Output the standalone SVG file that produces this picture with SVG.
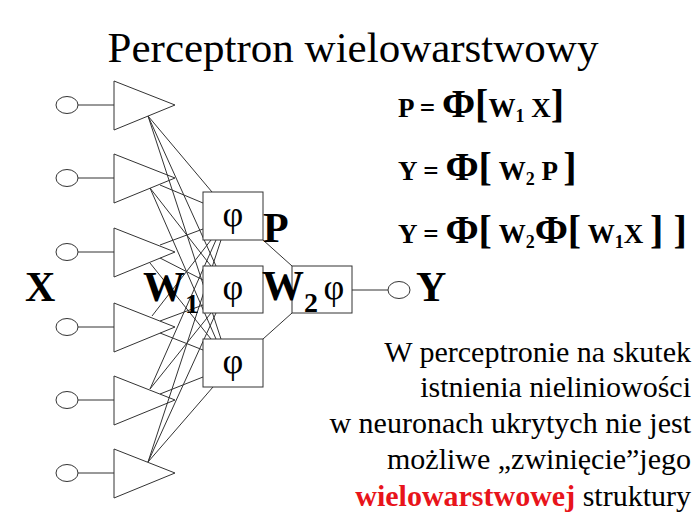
<svg xmlns="http://www.w3.org/2000/svg" width="700" height="525" viewBox="0 0 700 525">
<style>
.ln{stroke:#333;stroke-width:1;fill:none}
.nd{stroke:#333;stroke-width:1;fill:#fff}
.t{font-family:"Liberation Serif","Times New Roman",serif;fill:#000}
.b{font-weight:bold}
.phi{font-family:"Liberation Serif","Times New Roman",serif;font-size:36px;text-anchor:middle}
.f{font-family:"Liberation Serif","Times New Roman",serif;font-weight:bold;font-size:27px}
.big{font-size:40px}
.sub{font-size:18px}
.body{font-family:"Liberation Serif","Times New Roman",serif;font-size:30px;text-anchor:end}
</style>
<rect width="700" height="525" fill="#fff"/>
<text class="t" x="353" y="62" font-size="43" text-anchor="middle">Perceptron wielowarstwowy</text>

<g id="connectors">
  <line class="ln" x1="78" y1="105" x2="114" y2="105"/>
  <line class="ln" x1="78" y1="178" x2="114" y2="178"/>
  <line class="ln" x1="78" y1="252" x2="114" y2="252"/>
  <line class="ln" x1="78" y1="327" x2="114" y2="327"/>
  <line class="ln" x1="78" y1="400" x2="114" y2="400"/>
  <line class="ln" x1="78" y1="473" x2="114" y2="473"/>
  <line class="ln" x1="148" y1="116" x2="212" y2="192"/>
  <line class="ln" x1="148" y1="116" x2="216" y2="266"/>
  <line class="ln" x1="148" y1="116" x2="221" y2="339"/>
  <line class="ln" x1="160" y1="185" x2="203" y2="203"/>
  <line class="ln" x1="150" y1="188" x2="211" y2="266"/>
  <line class="ln" x1="150" y1="188" x2="216" y2="339"/>
  <line class="ln" x1="160" y1="245" x2="203" y2="229"/>
  <line class="ln" x1="160" y1="258" x2="203" y2="280"/>
  <line class="ln" x1="150" y1="263" x2="211" y2="339"/>
  <line class="ln" x1="152" y1="316" x2="211" y2="240"/>
  <line class="ln" x1="160" y1="321" x2="203" y2="305"/>
  <line class="ln" x1="160" y1="333" x2="203" y2="350"/>
  <line class="ln" x1="150" y1="389" x2="216" y2="240"/>
  <line class="ln" x1="150" y1="389" x2="211" y2="313"/>
  <line class="ln" x1="160" y1="394" x2="203" y2="377"/>
  <line class="ln" x1="148" y1="462" x2="221" y2="240"/>
  <line class="ln" x1="148" y1="462" x2="216" y2="313"/>
  <line class="ln" x1="148" y1="462" x2="213" y2="387"/>
  <line class="ln" x1="263" y1="240" x2="292" y2="266"/>
  <line class="ln" x1="263" y1="339" x2="292" y2="313"/>
  <line class="ln" x1="352" y1="290" x2="388" y2="290"/>
</g>

<g id="in1"><ellipse class="nd" cx="67" cy="105" rx="11" ry="8.5"/></g>
<g id="in2"><ellipse class="nd" cx="67" cy="178" rx="11" ry="8.5"/></g>
<g id="in3"><ellipse class="nd" cx="67" cy="252" rx="11" ry="8.5"/></g>
<g id="in4"><ellipse class="nd" cx="67" cy="327" rx="11" ry="8.5"/></g>
<g id="in5"><ellipse class="nd" cx="67" cy="400" rx="11" ry="8.5"/></g>
<g id="in6"><ellipse class="nd" cx="67" cy="473" rx="11" ry="8.5"/></g>

<g id="tr1"><polygon class="ln" points="114,81 114,130 175,105"/></g>
<g id="tr2"><polygon class="ln" points="114,154 114,203 175,178"/></g>
<g id="tr3"><polygon class="ln" points="114,228 114,277 175,252"/></g>
<g id="tr4"><polygon class="ln" points="114,303 114,352 175,327"/></g>
<g id="tr5"><polygon class="ln" points="114,376 114,425 175,400"/></g>
<g id="tr6"><polygon class="ln" points="114,449 114,498 175,473"/></g>

<g id="h1"><rect class="nd" x="203" y="192" width="60" height="48"/><text class="phi" x="233" y="226">φ</text></g>
<g id="h2"><rect class="nd" x="203" y="266" width="60" height="47"/><text class="phi" x="233" y="299">φ</text></g>
<g id="h3"><rect class="nd" x="203" y="339" width="60" height="48"/><text class="phi" x="233" y="373">φ</text></g>
<g id="out"><rect class="nd" x="292" y="266" width="60" height="47"/><text class="phi" x="334" y="299">φ</text></g>
<g id="y"><ellipse class="nd" cx="399" cy="290" rx="11" ry="8.5"/></g>

<text class="t b" x="25" y="301" font-size="42">X</text>
<text class="t b" x="143" y="301" font-size="42">W<tspan font-size="28" dy="12">1</tspan></text>
<text class="t b" x="263" y="242" font-size="42">P</text>
<text class="t b" x="262" y="300" font-size="42">W<tspan font-size="28" dy="12">2</tspan></text>
<text class="t b" x="416" y="301" font-size="42">Y</text>

<text class="f" x="398" y="117">P = <tspan class="big">Φ[</tspan>W<tspan class="sub" dy="5">1</tspan><tspan dy="-5"> X</tspan><tspan class="big">]</tspan></text>
<text class="f" x="398" y="180">Y = <tspan class="big">Φ[</tspan> W<tspan class="sub" dy="5">2</tspan><tspan dy="-5"> P </tspan><tspan class="big">]</tspan></text>
<text class="f" x="398" y="243">Y = <tspan class="big">Φ[</tspan> W<tspan class="sub" dy="5">2</tspan><tspan class="big" dy="-5">Φ[</tspan> W<tspan class="sub" dy="5">1</tspan><tspan dy="-5">X </tspan><tspan class="big">] ]</tspan></text>

<text class="body" x="691" y="362">W perceptronie na skutek</text>
<text class="body" x="691" y="397">istnienia nieliniowości</text>
<text class="body" x="691" y="433">w neuronach ukrytych nie jest</text>
<text class="body" x="691" y="469">możliwe „zwinięcie”jego</text>
<text class="body" x="691" y="506"><tspan font-weight="bold" fill="#e8141b">wielowarstwowej</tspan> struktury</text>
</svg>
